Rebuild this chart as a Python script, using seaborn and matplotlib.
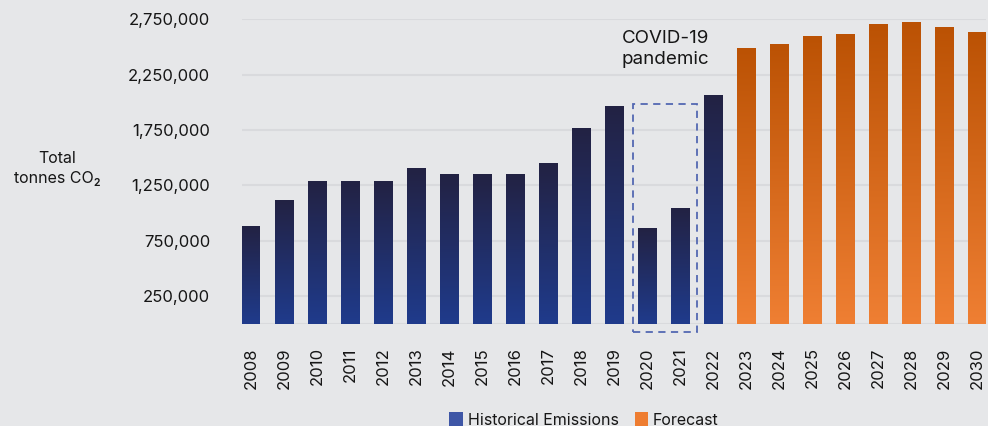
import numpy as np
import pandas as pd
import seaborn as sns
import matplotlib.pyplot as plt
from matplotlib.colors import LinearSegmentedColormap
from matplotlib.patches import Rectangle, Patch

# Data
years = [str(y) for y in range(2008, 2031)]
emissions = [882000, 1116000, 1288000, 1288000, 1288000, 1405000, 1351000,
             1351000, 1351000, 1450000, 1767000, 1965000, 864000, 1044000,
             2065000, 2488000, 2524000, 2597000, 2615000, 2705000, 2723000,
             2678000, 2633000]
series = ['Historical Emissions'] * 15 + ['Forecast'] * 8
ytick_values = [250000, 750000, 1250000, 1750000, 2250000, 2750000]
covid_years = ['2020', '2021']

df = pd.DataFrame({'Year': years, 'Emissions': emissions, 'Series': series})

bg = '#e6e7e9'
grid_col = '#d9dadd'
text_col = '#161616'
legend_cols = {'Historical Emissions': '#3e56a6', 'Forecast': '#ee7d31'}
# (bottom colour, top colour) of each bar gradient
gradients = {'Historical Emissions': ('#1f3b8c', '#232243'),
             'Forecast': ('#ef7f33', '#bb5204')}

sns.set_theme(style='white')
plt.rcParams['font.family'] = ['Inter', 'DejaVu Sans']
plt.rcParams['text.color'] = text_col

fig = plt.figure(figsize=(9.88, 4.26), dpi=100, facecolor=bg)
ax = fig.add_axes([0.245, 0.240, 0.753, 0.7146], facecolor=bg)

hue_order = ['Historical Emissions', 'Forecast']
sns.barplot(data=df, x='Year', y='Emissions', hue='Series', hue_order=hue_order,
            palette=legend_cols, dodge=False, width=0.55, legend=False,
            ax=ax, zorder=2)

# vertical gradient fill for every bar
grad = np.linspace(0, 1, 256).reshape(-1, 1)
for container, level in zip(ax.containers, hue_order):
    cmap = LinearSegmentedColormap.from_list(level, gradients[level])
    for bar in container:
        h = bar.get_height()
        if not np.isfinite(h) or h == 0:
            continue
        x0 = bar.get_x()
        w = bar.get_width()
        ax.imshow(grad, extent=[x0, x0 + w, 0, h], origin='lower',
                  aspect='auto', cmap=cmap, zorder=2)
        bar.set_facecolor('none')
        bar.set_edgecolor('none')

ax.set_xlim(-0.27, len(years) - 1 + 0.27)
ax.set_ylim(0, 2750000)

# grid
ax.set_yticks(ytick_values)
ax.set_yticklabels([f'{v:,}' for v in ytick_values])
ax.yaxis.grid(True, color=grid_col, linewidth=1.5, zorder=0)
ax.axhline(0, color=grid_col, linewidth=1.5, zorder=1)
ax.set_axisbelow(True)
for s in ax.spines.values():
    s.set_visible(False)

ax.tick_params(axis='y', length=0, pad=23, labelsize=12, labelcolor=text_col)
ax.tick_params(axis='x', length=0, pad=17, labelsize=12, labelcolor=text_col,
               labelrotation=90)
ax.set_xlabel('')
ax.set_ylabel('')

fig.text(0.058, 0.605, 'Total\ntonnes CO\u2082', ha='center', va='center',
         fontsize=11.5, linespacing=1.45, color=text_col)

# COVID-19 dashed box around 2020-2021
i0 = years.index(covid_years[0])
i1 = years.index(covid_years[-1])
box = Rectangle((i0 - 0.43, -72000), (i1 - i0) + 0.93, 2057000, fill=False,
                edgecolor='#5368b2', linestyle=(0, (4, 3)), linewidth=1.3,
                clip_on=False, zorder=3)
ax.add_patch(box)
ax.text((i0 + i1) / 2 + 0.06, 2480000, 'COVID-19\npandemic', ha='center',
        va='center', fontsize=13.5, linespacing=1.3, color=text_col)

handles = [Patch(facecolor=legend_cols[k], edgecolor='none', label=k)
           for k in hue_order]
fig.legend(handles=handles, loc='center', bbox_to_anchor=(0.591, 0.014),
           ncol=2, frameon=False, fontsize=11.5, handlelength=0.85,
           handleheight=0.9, handletextpad=0.3, columnspacing=1.0,
           borderpad=0, borderaxespad=0)

fig.savefig('out.png', dpi=100, facecolor=bg)
